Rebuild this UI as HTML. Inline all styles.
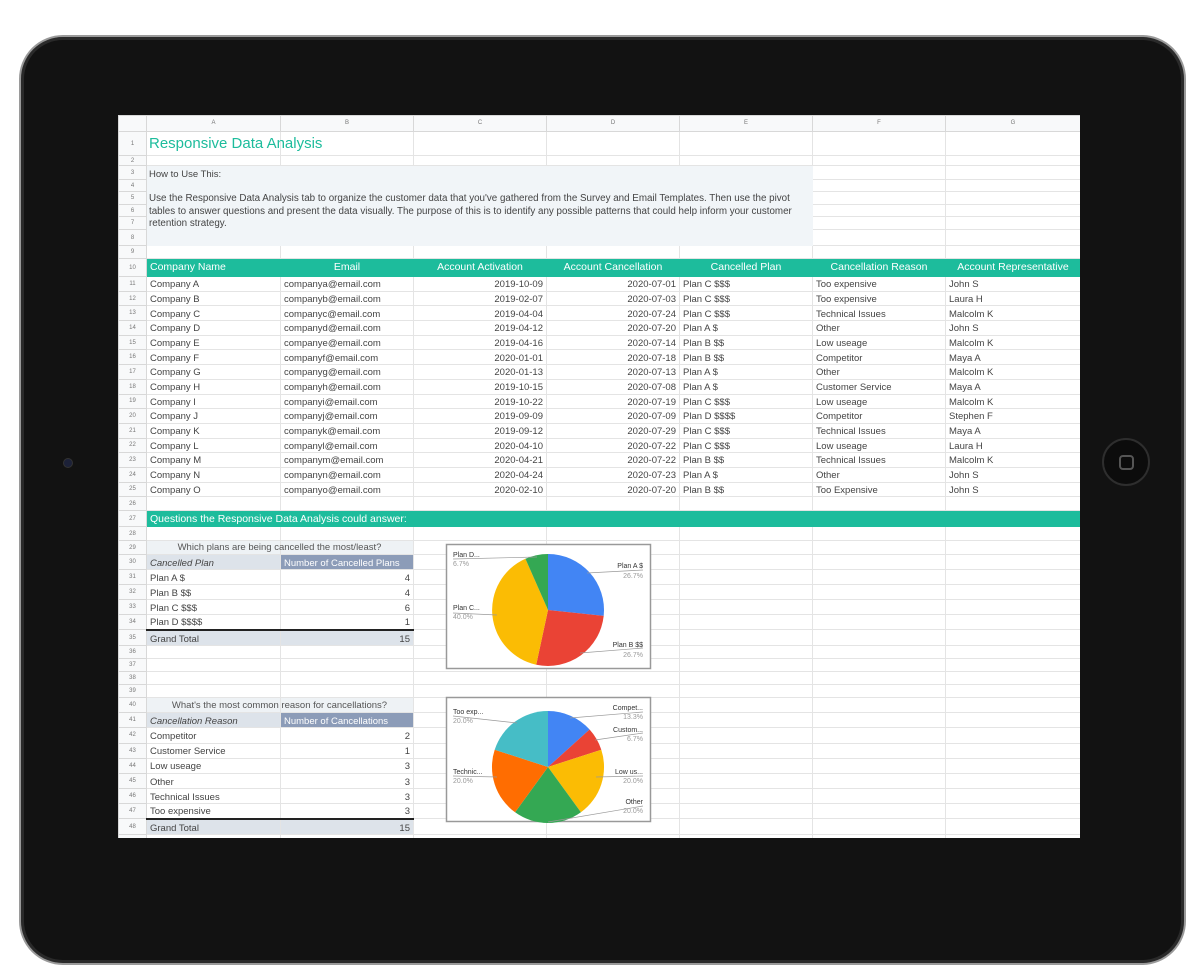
<!DOCTYPE html>
<html><head><meta charset="utf-8">
<style>
*{margin:0;padding:0;box-sizing:border-box}
body{width:1200px;height:900px;background:#fff;position:relative;overflow:hidden;font-family:"Liberation Sans",sans-serif}
.ipad{position:absolute;left:19px;top:35px;width:1167px;height:930px;background:#121212;border-radius:44px;border:2px solid #9a9a9a;box-shadow:inset 0 0 0 3px #2a2a2a}
.home{position:absolute;left:1102px;top:438px;width:48px;height:48px;border-radius:50%;background:#0c0c0c;border:2px solid #2e2e2e}
.home i{position:absolute;left:15px;top:15px;width:15px;height:15px;border:2px solid #555;border-radius:4px}
.cam{position:absolute;left:63px;top:458px;width:10px;height:10px;border-radius:50%;background:#1c2138;border:1px solid #333}
.screen{position:absolute;left:118px;top:115px;width:962px;height:723px;background:#fff;overflow:hidden}
table{border-collapse:collapse;table-layout:fixed;width:962px;font-size:9.5px;color:#444}
td{border:1px solid #e4e4e4;padding:0 3px 1px 3px;white-space:nowrap;overflow:visible;line-height:1;vertical-align:bottom}
td.n{background:#f8f9fa;color:#777;font-size:6px;text-align:center;border-color:#d8d8d8;vertical-align:middle;padding:0}
tr.h td{background:#f8f9fa;color:#777;font-size:6px;text-align:center;border-color:#d8d8d8;vertical-align:middle}
tr.g td.b{background:#f1f5f8;border-color:#f1f5f8}
tr.t td:not(.n){background:#1dbc9c;color:#fff;font-size:10.5px;border-color:#1dbc9c;vertical-align:middle;padding-bottom:0}
tr.t td.c{text-align:center}
.r{text-align:right}
td.ph{background:#dde3ea;font-style:italic}
td.pb{background:#8c9cb8;color:#fff}
td.gt{background:#dde3ea;border-top:2px solid #222}
td.pt{background:#eef2f5}
.ov{position:absolute;white-space:nowrap}
svg{position:absolute;left:0;top:0}
</style></head><body>
<div class="ipad"></div>
<div class="cam"></div>
<div class="home"><i></i></div>
<div class="screen">
<table>
<colgroup><col style="width:28px"><col style="width:134px"><col style="width:133px"><col style="width:133px"><col style="width:133px"><col style="width:133px"><col style="width:133px"><col style="width:135px"></colgroup>
<tr class="h" style="height:16px"><td></td><td>A</td><td>B</td><td>C</td><td>D</td><td>E</td><td>F</td><td>G</td></tr>
<tr style="height:24px"><td class="n">1</td><td></td><td></td><td></td><td></td><td></td><td></td><td></td></tr>
<tr style="height:10px"><td class="n">2</td><td></td><td></td><td></td><td></td><td></td><td></td><td></td></tr>
<tr class="g" style="height:14px"><td class="n">3</td><td class="b"></td><td class="b"></td><td class="b"></td><td class="b"></td><td class="b"></td><td></td><td></td></tr>
<tr class="g" style="height:12px"><td class="n">4</td><td class="b"></td><td class="b"></td><td class="b"></td><td class="b"></td><td class="b"></td><td></td><td></td></tr>
<tr class="g" style="height:13px"><td class="n">5</td><td class="b"></td><td class="b"></td><td class="b"></td><td class="b"></td><td class="b"></td><td></td><td></td></tr>
<tr class="g" style="height:12px"><td class="n">6</td><td class="b"></td><td class="b"></td><td class="b"></td><td class="b"></td><td class="b"></td><td></td><td></td></tr>
<tr class="g" style="height:13px"><td class="n">7</td><td class="b"></td><td class="b"></td><td class="b"></td><td class="b"></td><td class="b"></td><td></td><td></td></tr>
<tr class="g" style="height:16px"><td class="n">8</td><td class="b"></td><td class="b"></td><td class="b"></td><td class="b"></td><td class="b"></td><td></td><td></td></tr>
<tr style="height:13px"><td class="n">9</td><td></td><td></td><td></td><td></td><td></td><td></td><td></td></tr>
<tr class="t" style="height:18px"><td class="n">10</td><td>Company Name</td><td class="c">Email</td><td class="c">Account Activation</td><td class="c">Account Cancellation</td><td class="c">Cancelled Plan</td><td class="c">Cancellation Reason</td><td class="c">Account Representative</td></tr>
<tr style="height:14.7px"><td class="n">11</td><td>Company A</td><td>companya@email.com</td><td class="r">2019-10-09</td><td class="r">2020-07-01</td><td>Plan C $$$</td><td>Too expensive</td><td>John S</td></tr>
<tr style="height:14.7px"><td class="n">12</td><td>Company B</td><td>companyb@email.com</td><td class="r">2019-02-07</td><td class="r">2020-07-03</td><td>Plan C $$$</td><td>Too expensive</td><td>Laura H</td></tr>
<tr style="height:14.7px"><td class="n">13</td><td>Company C</td><td>companyc@email.com</td><td class="r">2019-04-04</td><td class="r">2020-07-24</td><td>Plan C $$$</td><td>Technical Issues</td><td>Malcolm K</td></tr>
<tr style="height:14.7px"><td class="n">14</td><td>Company D</td><td>companyd@email.com</td><td class="r">2019-04-12</td><td class="r">2020-07-20</td><td>Plan A $</td><td>Other</td><td>John S</td></tr>
<tr style="height:14.7px"><td class="n">15</td><td>Company E</td><td>companye@email.com</td><td class="r">2019-04-16</td><td class="r">2020-07-14</td><td>Plan B $$</td><td>Low useage</td><td>Malcolm K</td></tr>
<tr style="height:14.7px"><td class="n">16</td><td>Company F</td><td>companyf@email.com</td><td class="r">2020-01-01</td><td class="r">2020-07-18</td><td>Plan B $$</td><td>Competitor</td><td>Maya A</td></tr>
<tr style="height:14.7px"><td class="n">17</td><td>Company G</td><td>companyg@email.com</td><td class="r">2020-01-13</td><td class="r">2020-07-13</td><td>Plan A $</td><td>Other</td><td>Malcolm K</td></tr>
<tr style="height:14.7px"><td class="n">18</td><td>Company H</td><td>companyh@email.com</td><td class="r">2019-10-15</td><td class="r">2020-07-08</td><td>Plan A $</td><td>Customer Service</td><td>Maya A</td></tr>
<tr style="height:14.7px"><td class="n">19</td><td>Company I</td><td>companyi@email.com</td><td class="r">2019-10-22</td><td class="r">2020-07-19</td><td>Plan C $$$</td><td>Low useage</td><td>Malcolm K</td></tr>
<tr style="height:14.7px"><td class="n">20</td><td>Company J</td><td>companyj@email.com</td><td class="r">2019-09-09</td><td class="r">2020-07-09</td><td>Plan D $$$$</td><td>Competitor</td><td>Stephen F</td></tr>
<tr style="height:14.7px"><td class="n">21</td><td>Company K</td><td>companyk@email.com</td><td class="r">2019-09-12</td><td class="r">2020-07-29</td><td>Plan C $$$</td><td>Technical Issues</td><td>Maya A</td></tr>
<tr style="height:14.7px"><td class="n">22</td><td>Company L</td><td>companyl@email.com</td><td class="r">2020-04-10</td><td class="r">2020-07-22</td><td>Plan C $$$</td><td>Low useage</td><td>Laura H</td></tr>
<tr style="height:14.7px"><td class="n">23</td><td>Company M</td><td>companym@email.com</td><td class="r">2020-04-21</td><td class="r">2020-07-22</td><td>Plan B $$</td><td>Technical Issues</td><td>Malcolm K</td></tr>
<tr style="height:14.7px"><td class="n">24</td><td>Company N</td><td>companyn@email.com</td><td class="r">2020-04-24</td><td class="r">2020-07-23</td><td>Plan A $</td><td>Other</td><td>John S</td></tr>
<tr style="height:14.7px"><td class="n">25</td><td>Company O</td><td>companyo@email.com</td><td class="r">2020-02-10</td><td class="r">2020-07-20</td><td>Plan B $$</td><td>Too Expensive</td><td>John S</td></tr>
<tr style="height:14px"><td class="n">26</td><td></td><td></td><td></td><td></td><td></td><td></td><td></td></tr>
<tr class="t" style="height:16px"><td class="n">27</td><td>Questions the Responsive Data Analysis could answer:</td><td></td><td></td><td></td><td></td><td></td><td></td></tr>
<tr style="height:14px"><td class="n">28</td><td></td><td></td><td></td><td></td><td></td><td></td><td></td></tr>
<tr style="height:14px"><td class="n">29</td><td class="pt"></td><td class="pt"></td><td></td><td></td><td></td><td></td><td></td></tr>
<tr style="height:15px"><td class="n">30</td><td class="ph">Cancelled Plan</td><td class="pb">Number of Cancelled Plans</td><td></td><td></td><td></td><td></td><td></td></tr>
<tr style="height:15px"><td class="n">31</td><td>Plan A $</td><td class="r">4</td><td></td><td></td><td></td><td></td><td></td></tr>
<tr style="height:15px"><td class="n">32</td><td>Plan B $$</td><td class="r">4</td><td></td><td></td><td></td><td></td><td></td></tr>
<tr style="height:15px"><td class="n">33</td><td>Plan C $$$</td><td class="r">6</td><td></td><td></td><td></td><td></td><td></td></tr>
<tr style="height:15px"><td class="n">34</td><td>Plan D $$$$</td><td class="r">1</td><td></td><td></td><td></td><td></td><td></td></tr>
<tr style="height:16px"><td class="n">35</td><td class="gt">Grand Total</td><td class="gt r">15</td><td></td><td></td><td></td><td></td><td></td></tr>
<tr style="height:13px"><td class="n">36</td><td></td><td></td><td></td><td></td><td></td><td></td><td></td></tr>
<tr style="height:13px"><td class="n">37</td><td></td><td></td><td></td><td></td><td></td><td></td><td></td></tr>
<tr style="height:13px"><td class="n">38</td><td></td><td></td><td></td><td></td><td></td><td></td><td></td></tr>
<tr style="height:13px"><td class="n">39</td><td></td><td></td><td></td><td></td><td></td><td></td><td></td></tr>
<tr style="height:15px"><td class="n">40</td><td class="pt"></td><td class="pt"></td><td></td><td></td><td></td><td></td><td></td></tr>
<tr style="height:15px"><td class="n">41</td><td class="ph">Cancellation Reason</td><td class="pb">Number of Cancellations</td><td></td><td></td><td></td><td></td><td></td></tr>
<tr style="height:15.2px"><td class="n">42</td><td>Competitor</td><td class="r">2</td><td></td><td></td><td></td><td></td><td></td></tr>
<tr style="height:15.2px"><td class="n">43</td><td>Customer Service</td><td class="r">1</td><td></td><td></td><td></td><td></td><td></td></tr>
<tr style="height:15.2px"><td class="n">44</td><td>Low useage</td><td class="r">3</td><td></td><td></td><td></td><td></td><td></td></tr>
<tr style="height:15.2px"><td class="n">45</td><td>Other</td><td class="r">3</td><td></td><td></td><td></td><td></td><td></td></tr>
<tr style="height:15.2px"><td class="n">46</td><td>Technical Issues</td><td class="r">3</td><td></td><td></td><td></td><td></td><td></td></tr>
<tr style="height:15.2px"><td class="n">47</td><td>Too expensive</td><td class="r">3</td><td></td><td></td><td></td><td></td><td></td></tr>
<tr style="height:16px"><td class="n">48</td><td class="gt">Grand Total</td><td class="gt r">15</td><td></td><td></td><td></td><td></td><td></td></tr>
<tr style="height:14px"><td class="n">49</td><td></td><td></td><td></td><td></td><td></td><td></td><td></td></tr>
</table>
<div class="ov" style="left:31px;top:20px;font-size:15px;color:#1dbc9c">Responsive Data Analysis</div>
<div class="ov" style="left:31px;top:54px;font-size:9.5px;color:#444">How to Use This:</div>
<div class="ov" style="left:31px;top:78px;font-size:9.8px;color:#444;line-height:12.5px;white-space:normal;width:650px">Use the Responsive Data Analysis tab to organize the customer data that you've gathered from the Survey and Email Templates. Then use the pivot tables to answer questions and present the data visually. The purpose of this is to identify any possible patterns that could help inform your customer retention strategy.</div>
<div class="ov" style="left:28px;top:427px;width:267px;text-align:center;font-size:9.5px;color:#555">Which plans are being cancelled the most/least?</div>
<div class="ov" style="left:28px;top:585px;width:267px;text-align:center;font-size:9.5px;color:#555">What's the most common reason for cancellations?</div>
</div>
<svg width="1200" height="900" font-family="Liberation Sans, sans-serif" font-size="7">
<rect x="446.5" y="544.5" width="204" height="124" fill="#fff" stroke="#999" stroke-width="1.5"/>
<path d="M548 610 L548 554 A56 56 0 0 1 603.7 615.9Z" fill="#4285f4"/>
<path d="M548 610 L603.7 615.9 A56 56 0 0 1 536.2 664.7Z" fill="#ea4335"/>
<path d="M548 610 L536.2 664.7 A56 56 0 0 1 525.4 558.8Z" fill="#fbbc04"/>
<path d="M548 610 L525.4 558.8 A56 56 0 0 1 548 554Z" fill="#34a853"/>
<g stroke="#999" stroke-width="0.7" fill="none">
<path d="M453 559 L537 557"/><path d="M587 573 L643 570"/><path d="M453 613 L497 615"/><path d="M580 653 L643 648"/>
</g>
<g fill="#333"><text x="453" y="557">Plan D...</text><text x="453" y="610">Plan C...</text>
<text x="643" y="568" text-anchor="end">Plan A $</text><text x="643" y="647" text-anchor="end">Plan B $$</text></g>
<g fill="#999"><text x="453" y="566">6.7%</text><text x="453" y="619">40.0%</text>
<text x="643" y="578" text-anchor="end">26.7%</text><text x="643" y="657" text-anchor="end">26.7%</text></g>

<rect x="446.5" y="697.5" width="204" height="124" fill="#fff" stroke="#999" stroke-width="1.5"/>
<path d="M548 767 L548 711 A56 56 0 0 1 589.6 729.5Z" fill="#4285f4"/>
<path d="M548 767 L589.6 729.5 A56 56 0 0 1 601.3 749.7Z" fill="#ea4335"/>
<path d="M548 767 L601.3 749.7 A56 56 0 0 1 580.9 812.3Z" fill="#fbbc04"/>
<path d="M548 767 L580.9 812.3 A56 56 0 0 1 515.1 812.3Z" fill="#34a853"/>
<path d="M548 767 L515.1 812.3 A56 56 0 0 1 494.7 749.7Z" fill="#ff6d01"/>
<path d="M548 767 L494.7 749.7 A56 56 0 0 1 548 711Z" fill="#46bdc6"/>
<g stroke="#999" stroke-width="0.7" fill="none">
<path d="M453 716 L517 723"/><path d="M570 718 L643 712"/><path d="M595 740 L643 733"/><path d="M453 776 L497 777"/><path d="M596 777 L643 776"/><path d="M548 822 L643 806"/>
</g>
<g fill="#333"><text x="453" y="714">Too exp...</text><text x="453" y="774">Technic...</text>
<text x="643" y="710" text-anchor="end">Compet...</text><text x="643" y="732" text-anchor="end">Custom...</text>
<text x="643" y="774" text-anchor="end">Low us...</text><text x="643" y="804" text-anchor="end">Other</text></g>
<g fill="#999"><text x="453" y="723">20.0%</text><text x="453" y="783">20.0%</text>
<text x="643" y="719" text-anchor="end">13.3%</text><text x="643" y="741" text-anchor="end">6.7%</text>
<text x="643" y="783" text-anchor="end">20.0%</text><text x="643" y="813" text-anchor="end">20.0%</text></g>
</svg>
</body></html>
